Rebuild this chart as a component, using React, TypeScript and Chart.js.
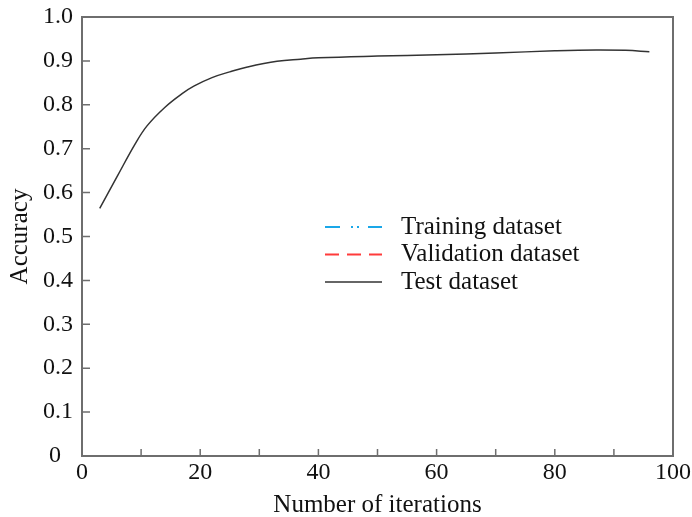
import React, { useEffect, useRef } from "react";
import { Chart, registerables } from "chart.js";

Chart.register(...registerables);

const iterations = [3, 6, 9, 11, 14, 17, 19, 22, 25, 28, 33, 37, 40, 50, 60, 70, 80, 87, 92, 96];
const testAccuracy = [0.564, 0.638, 0.711, 0.752, 0.794, 0.826, 0.843, 0.862, 0.875, 0.886, 0.899, 0.904, 0.907, 0.911, 0.914, 0.918, 0.923, 0.925, 0.924, 0.921];
const trainingAccuracy: number[] = [];
const validationAccuracy: number[] = [];
const seriesLabels = ["Training dataset", "Validation dataset", "Test dataset"];
const xTicks = [0, 20, 40, 60, 80, 100];

const FONT = "'Liberation Serif', 'Times New Roman', serif";
const AXIS = "#6e6e6e";

const framePlugin = {
  id: "frameTicks",
  afterDraw(chart: any) {
    const { ctx, chartArea } = chart;
    const { left, right, top, bottom } = chartArea;
    const xs = chart.scales.x;
    const ys = chart.scales.y;
    ctx.save();
    ctx.strokeStyle = AXIS;
    ctx.lineWidth = 2;
    ctx.strokeRect(left, top, right - left, bottom - top);
    ctx.lineWidth = 1.5;
    ctx.beginPath();
    for (let v = 10; v < 100; v += 10) {
      const px = xs.getPixelForValue(v);
      ctx.moveTo(px, bottom);
      ctx.lineTo(px, bottom - 7);
    }
    for (let i = 1; i < 10; i++) {
      const py = ys.getPixelForValue(i / 10);
      ctx.moveTo(left, py);
      ctx.lineTo(left + 8, py);
    }
    ctx.stroke();

    // legend
    const items = chart.data.datasets;
    const lx0 = left + 243;
    const lx1 = left + 300;
    const tx = left + 319;
    const y0 = top + 210;
    const dy = 27.5;
    ctx.font = `25px ${FONT}`;
    ctx.textBaseline = "middle";
    ctx.textAlign = "left";
    items.forEach((ds: any, i: number) => {
      const y = y0 + i * dy;
      ctx.beginPath();
      ctx.setLineDash(ds.borderDash || []);
      ctx.strokeStyle = ds.borderColor;
      ctx.lineWidth = i === 2 ? 1.5 : 2;
      ctx.moveTo(lx0, y);
      ctx.lineTo(lx1, y);
      ctx.stroke();
      ctx.setLineDash([]);
      ctx.fillStyle = "#111";
      ctx.fillText(ds.label, tx, y);
    });
    ctx.restore();
  },
};

export default function App() {
  const ref = useRef<HTMLCanvasElement>(null);
  useEffect(() => {
    if (!ref.current) return;
    const chart = new Chart(ref.current, {
      type: "line",
      data: {
        datasets: [
          {
            label: seriesLabels[0],
            data: trainingAccuracy.map((y, i) => ({ x: iterations[i], y })),
            borderColor: "#1aa7e8",
            borderDash: [15, 11, 2, 4, 2, 9],
            pointRadius: 0,
          },
          {
            label: seriesLabels[1],
            data: validationAccuracy.map((y, i) => ({ x: iterations[i], y })),
            borderColor: "#ff3b3b",
            borderDash: [14, 8],
            pointRadius: 0,
          },
          {
            label: seriesLabels[2],
            data: testAccuracy.map((y, i) => ({ x: iterations[i], y })),
            borderColor: "#333333",
            borderWidth: 1.5,
            pointRadius: 0,
            tension: 0.4,
          },
        ],
      },
      options: {
        animation: false,
        responsive: false,
        layout: { padding: { top: 17, right: 19, left: 0, bottom: 0 } },
        plugins: { legend: { display: false }, tooltip: { enabled: false } },
        scales: {
          x: {
            type: "linear",
            min: 0,
            max: 100,
            afterFit: (s: any) => {
              s.height = 61;
              s.paddingLeft = 0;
              s.paddingRight = 0;
            },
            afterBuildTicks: (s: any) => { s.ticks = xTicks.map((v) => ({ value: v })); },
            grid: { display: false, drawTicks: false },
            border: { display: false },
            ticks: {
              padding: 2,
              color: "#111",
              font: { family: FONT, size: 24 },
              maxRotation: 0,
              callback: (v: any) => String(v),
            },
            title: {
              display: true,
              text: "Number of iterations",
              color: "#111",
              font: { family: FONT, size: 25 },
              padding: { top: 0, bottom: -3 },
            },
          },
          y: {
            min: 0,
            max: 1,
            afterFit: (s: any) => {
              s.width = 82;
              s.paddingTop = 0;
              s.paddingBottom = 0;
            },
            grid: { display: false, drawTicks: false },
            border: { display: false },
            ticks: {
              stepSize: 0.1,
              padding: 9,
              color: "#111",
              font: { family: FONT, size: 24 },
              callback: (v: any) => (Math.abs(v) < 1e-9 ? "0  " : Number(v).toFixed(1)),
            },
            title: {
              display: true,
              text: "Accuracy",
              color: "#111",
              font: { family: FONT, size: 25 },
              padding: { top: 5, bottom: 0 },
            },
          },
        },
      },
      plugins: [framePlugin],
    } as any);
    return () => chart.destroy();
  }, []);
  return (
    <div style={{ position: "fixed", left: 0, top: 0, width: 692, height: 517, background: "#fff" }}>
      <canvas ref={ref} width={692} height={517} style={{ width: 692, height: 517 }} />
    </div>
  );
}
